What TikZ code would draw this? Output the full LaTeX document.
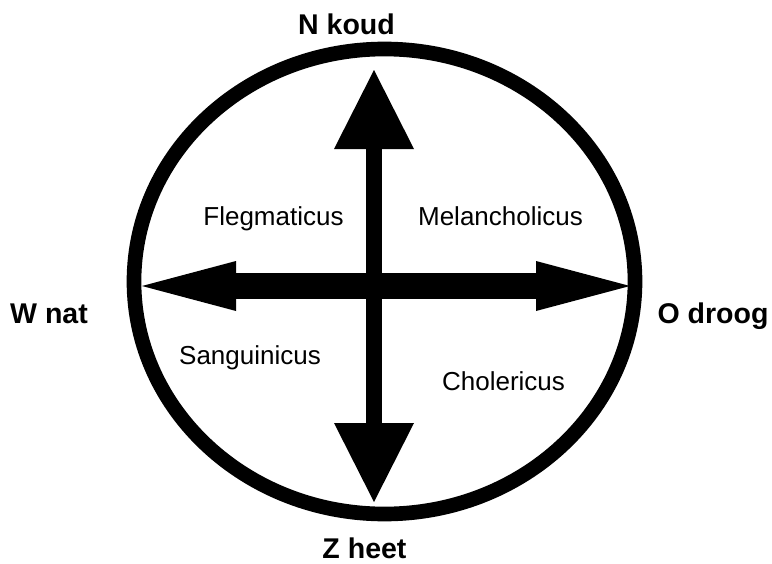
\documentclass[tikz,border=0pt]{standalone}
\usepackage{fontspec}
\setmainfont{Liberation Sans}
\usepackage{tikz}
\usetikzlibrary{arrows.meta}

\begin{document}
\begin{tikzpicture}[
    x=0.75pt, y=-0.75pt,
    label/.style={anchor=base, inner sep=0pt, font=\fontsize{19.5}{23}\selectfont},
    pole/.style={label, font=\fontsize{21.4}{25}\selectfont\bfseries},
    rim/.style={draw=black, line width=11pt},
    harrow/.style={line width=19.5pt, {Triangle[length=70.5pt, width=37.5pt, line width=0pt]}-{Triangle[length=70.5pt, width=37.5pt, line width=0pt]}},
    varrow/.style={line width=12pt, {Triangle[length=59.25pt, width=60pt, line width=0pt]}-{Triangle[length=59.25pt, width=60pt, line width=0pt]}}
]
    \useasboundingbox (0,0) rectangle (772,564);

    % --- outer ring ---
    \draw[rim] (384.5,281.5) ellipse [x radius=250.5, y radius=232.5];

    % --- arrow ends ---
    \coordinate (w_tip) at (142,286);
    \coordinate (o_tip) at (630,286);
    \coordinate (n_tip) at (374,70);
    \coordinate (z_tip) at (374,502);

    % --- axes ---
    \draw[varrow] (z_tip) -- (n_tip);
    \draw[harrow] (w_tip) -- (o_tip);

    % --- compass points ---
    \node[pole] (n_koud) at (346.5,34) {N koud};
    \node[pole] (z_heet) at (364.5,558) {Z heet};
    \node[pole] (w_nat) at (49,323) {W nat};
    \node[pole] (o_droog) at (713,323) {O droog};

    % --- temperaments ---
    \node[label] (flegma) at (273.5,225) {Flegmaticus};
    \node[label] (melan) at (500.5,225) {Melancholicus};
    \node[label] (sangui) at (250,364) {Sanguinicus};
    \node[label] (chole) at (503.5,390) {Cholericus};

\end{tikzpicture}
\end{document}
